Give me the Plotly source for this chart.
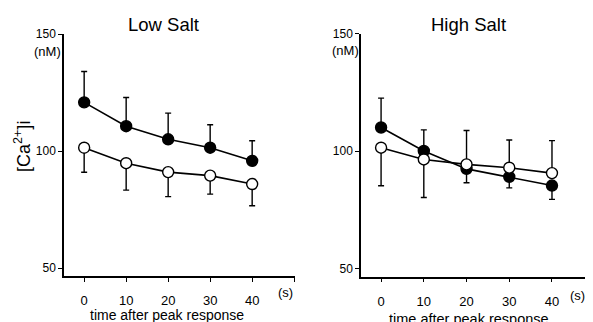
import plotly.graph_objects as go

# ---- data ----
time_s = [0, 10, 20, 30, 40]
x_ticks = [0, 10, 20, 30, 40]
x_tick_labels = ["0", "10", "20", "30", "40"]
x_extra_tick = [50]
y_ticks = [50, 100, 150]
y_tick_labels = ["50", "100", "150"]

low_filled = [120.8, 110.6, 105.0, 101.4, 95.8]
low_filled_err_up = [13.2, 12.3, 11.2, 9.8, 8.6]
low_filled_err_down = [0, 0, 0, 0, 0]
low_open = [101.4, 94.8, 91.0, 89.5, 85.9]
low_open_err_up = [0, 0, 0, 0, 0]
low_open_err_down = [10.5, 11.5, 10.5, 7.9, 9.3]

high_filled = [110.0, 100.0, 92.4, 89.0, 85.3]
high_filled_err_up = [12.5, 9.0, 0, 0, 0]
high_filled_err_down = [0, 0, 5.9, 4.7, 5.9]
high_open = [101.4, 96.4, 94.3, 92.9, 90.6]
high_open_err_up = [0, 0, 14.4, 11.8, 13.8]
high_open_err_down = [16.2, 16.2, 0, 0, 0]

FONT = "Liberation Sans, Arial, Helvetica, sans-serif"
OFF = 8  # page body margin
W, H = 593 - OFF, 322 - OFF

fig = go.Figure()

def add_series(x, y, up, down, filled, xa, ya):
    fig.add_trace(go.Scatter(
        x=x, y=y, mode="lines+markers", xaxis=xa, yaxis=ya,
        line=dict(color="black", width=1.6),
        marker=dict(size=11, color="black" if filled else "white",
                    line=dict(color="black", width=1.4)),
        error_y=dict(type="data", array=up, arrayminus=down, symmetric=False,
                     color="black", thickness=1.4, width=3),
        showlegend=False, cliponaxis=False,
    ))

add_series(time_s, low_filled, low_filled_err_up, low_filled_err_down, True, "x", "y")
add_series(time_s, low_open, low_open_err_up, low_open_err_down, False, "x", "y")
add_series(time_s, high_filled, high_filled_err_up, high_filled_err_down, True, "x2", "y2")
add_series(time_s, high_open, high_open_err_up, high_open_err_down, False, "x2", "y2")

def xdom(a, b):
    return [(a - OFF) / W, min(1.0, (b - OFF) / W)]

def ydom(top, bottom):
    return [(H - (bottom - OFF)) / H, (H - (top - OFF)) / H]

axis_common = dict(showgrid=False, zeroline=False, showline=True, linecolor="black",
                   linewidth=1.5, ticks="outside", ticklen=4, tickwidth=1.3,
                   automargin=False, tickcolor="black")
minor_x = dict(tickvals=x_extra_tick, ticks="outside", ticklen=4, tickwidth=1.3,
               tickcolor="black", showgrid=False)
xfont = dict(family=FONT, size=13, color="black")
yfont = dict(family=FONT, size=12, color="black")

fig.update_layout(
    width=W, height=H, margin=dict(l=0, r=0, t=0, b=0, autoexpand=False),
    paper_bgcolor="white", plot_bgcolor="white",
    font=dict(family=FONT, color="black"),
    xaxis=dict(domain=xdom(64, 295), range=[-4.8, 50.2], anchor="y",
               tickvals=x_ticks, ticktext=x_tick_labels, ticklabelstandoff=8,
               tickfont=xfont, minor=minor_x, **axis_common),
    yaxis=dict(domain=ydom(34, 276), range=[46.6, 150], anchor="x",
               tickvals=y_ticks, ticktext=y_tick_labels, tickfont=yfont, **axis_common),
    xaxis2=dict(domain=xdom(361, 593), range=[-4.7, 49.6], anchor="y2",
                tickvals=x_ticks, ticktext=x_tick_labels, ticklabelstandoff=8,
                tickfont=xfont, minor=minor_x, **axis_common),
    yaxis2=dict(domain=ydom(33.5, 276.5), range=[46.6, 150], anchor="x2",
                tickvals=y_ticks, ticktext=y_tick_labels, tickfont=yfont, **axis_common),
)

def ann(text, x, y, size, xanchor="center", angle=0):
    fig.add_annotation(text=text, x=(x - OFF) / W, y=1 - (y - OFF) / H,
                       xref="paper", yref="paper",
                       showarrow=False, xanchor=xanchor, yanchor="middle",
                       textangle=angle, font=dict(family=FONT, size=size, color="black"))

ann("Low Salt", 163, 25, 18.5)
ann("High Salt", 468, 25, 18.5)
ann("(nM)", 47, 52, 13)
ann("(nM)", 345, 51, 13)
ann("[Ca<sup>2+</sup>]i", 22, 147, 18, angle=-90)
ann("(s)", 285, 292, 13)
ann("(s)", 577, 295, 13)
ann("time after peak response", 167, 315, 14)
ann("time after peak response", 469, 319, 14.5)

fig.write_html("out.html")
